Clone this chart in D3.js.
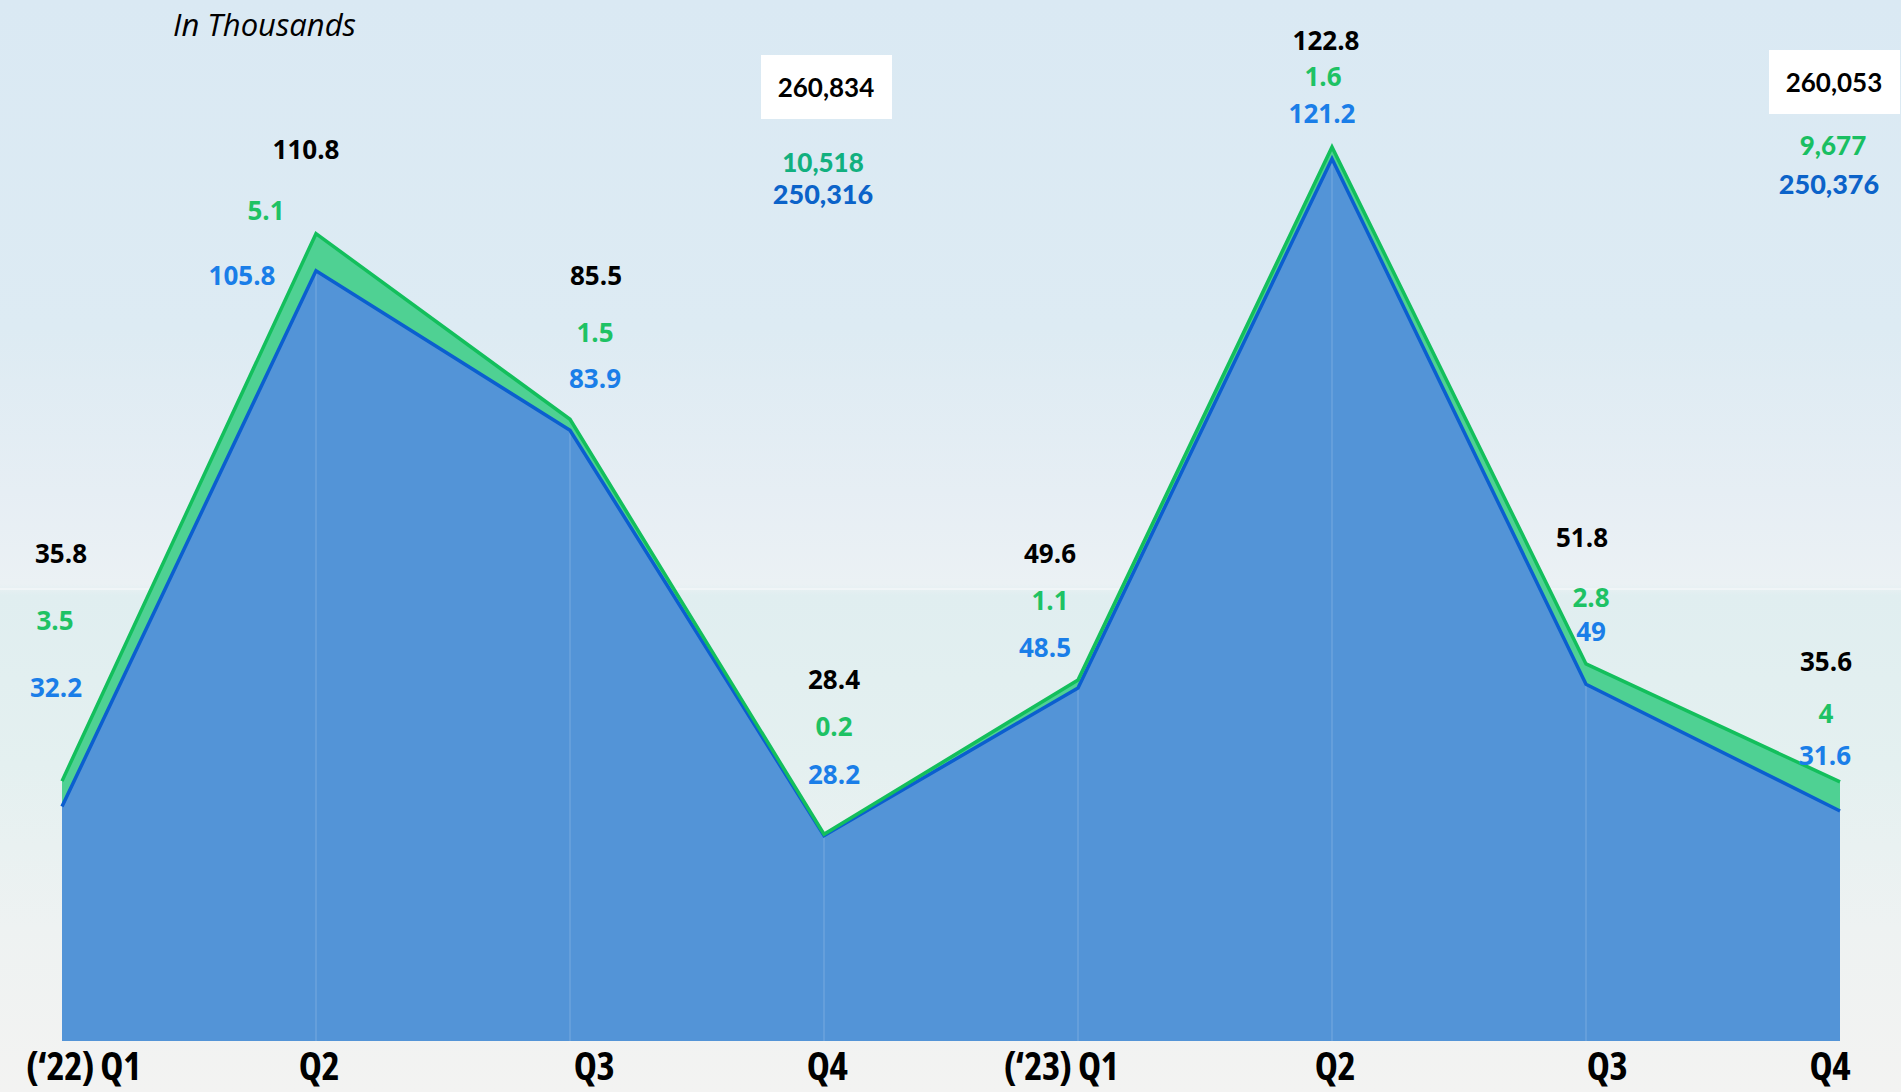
<!DOCTYPE html>
<html>
<head>
<meta charset="utf-8">
<script src="https://cdn.jsdelivr.net/npm/d3@7"></script>
<style>
  html, body { margin:0; padding:0; background:#eef3f5; }
  svg { display:block; }
</style>
</head>
<body>
<svg id="drawing_region"></svg>
<script>
// values (in thousands)
const quarters = ["(\u201822) Q1", "Q2", "Q3", "Q4", "(\u201823) Q1", "Q2", "Q3", "Q4"];
const blueValues = [32.2, 105.8, 83.9, 28.2, 48.5, 121.2, 49, 31.6];
const greenValues = [3.5, 5.1, 1.5, 0.2, 1.1, 1.6, 2.8, 4];
const totalValues = [35.8, 110.8, 85.5, 28.4, 49.6, 122.8, 51.8, 35.6];

// yearly totals, shown at the Q4 points
const yearIndex = [3, 7];
const yearTotal = [260834, 260053];
const yearGreen = [10518, 9677];
const yearBlue = [250316, 250376];

class DrawClass {

  constructor( config ) {
      this.config = {
          parent: config.parent,
          width: config.width || 1901,
          height: config.height || 1092,
          margin: config.margin || {top:0, right:61, bottom:51, left:62}
      }
      this.init();
  }

  init() {
      let self = this;

      self.svg = d3.select(self.config.parent)
          .attr('width', self.config.width)
          .attr('height', self.config.height);

      self.inner_width = self.config.width - self.config.margin.left - self.config.margin.right;
      self.inner_height = self.config.height - self.config.margin.top - self.config.margin.bottom;

      self.xscale = d3.scaleLinear()
          .domain([0, quarters.length - 1])
          .range([self.config.margin.left, self.config.margin.left + self.inner_width]);

      self.yscale = d3.scaleLinear()
          .domain([0, 143])
          .range([self.config.margin.top + self.inner_height, self.config.margin.top]);
  }

  update() {
      let self = this;
      self.rows = quarters.map((q, i) => ({ q: q, blue: blueValues[i], green: greenValues[i], total: totalValues[i] }));
      self.stack = d3.stack().keys(['blue', 'green'])(self.rows);
      self.render();
  }

  background() {
      let self = this;
      const defs = self.svg.append('defs');
      const grad = defs.append('linearGradient')
          .attr('id', 'sky').attr('x1', 0).attr('x2', 0).attr('y1', 0).attr('y2', 1);
      [[0, '#dae9f3'], [0.3, '#ddebf3'], [0.45, '#e6eef4'], [0.535, '#ebf1f4'],
       [0.545, '#e0eef0'], [0.7, '#e4f0f0'], [0.85, '#eef2f2'], [1, '#f3f3f2']]
        .forEach(s => grad.append('stop').attr('offset', s[0]).attr('stop-color', s[1]));

      self.svg.append('rect')
          .attr('width', self.config.width)
          .attr('height', self.config.height)
          .attr('fill', 'url(#sky)');

      // faint horizon line
      self.svg.append('rect')
          .attr('x', 0).attr('y', 588)
          .attr('width', self.config.width).attr('height', 2)
          .attr('fill', '#f6f9fa').attr('opacity', 0.6);
  }

  render() {
      let self = this;
      self.background();

      const area = d3.area()
          .x((d, i) => self.xscale(i))
          .y0(d => self.yscale(d[0]))
          .y1(d => self.yscale(d[1]));

      const topLine = d3.line()
          .x((d, i) => self.xscale(i))
          .y(d => self.yscale(d[1]));

      const fills = ['#5394d7', '#4fd193'];
      const strokes = ['#0b5fcf', '#13bf5c'];

      self.svg.selectAll('path.area')
          .data(self.stack)
          .join('path')
          .attr('class', 'area')
          .attr('d', area)
          .attr('fill', (d, i) => fills[i]);

      // faint vertical grid lines through the blue area
      self.svg.selectAll('line.grid')
          .data(self.rows.slice(1, -1))
          .join('line')
          .attr('class', 'grid')
          .attr('x1', (d, i) => self.xscale(i + 1))
          .attr('x2', (d, i) => self.xscale(i + 1))
          .attr('y1', d => self.yscale(d.blue))
          .attr('y2', self.yscale(0))
          .attr('stroke', '#ffffff')
          .attr('stroke-opacity', 0.15)
          .attr('stroke-width', 1.5);

      self.svg.selectAll('path.edge')
          .data(self.stack)
          .join('path')
          .attr('class', 'edge')
          .attr('d', topLine)
          .attr('fill', 'none')
          .attr('stroke', (d, i) => strokes[i])
          .attr('stroke-width', 3.5)
          .attr('stroke-linejoin', 'miter');

      // point labels: [dx, y] for total, green, blue
      const labelLayout = [
        [[-1, 553], [-7, 620], [-6, 687]],
        [[-10, 149], [-50, 210], [-74, 275]],
        [[26, 275], [25, 332], [25, 378]],
        [[10, 679], [10, 726], [10, 774]],
        [[-28, 553], [-28, 600], [-33, 647]],
        [[-6, 40], [-9, 76], [-10, 113]],
        [[-4, 537], [5, 597], [5, 631]],
        [[-14, 661], [-14, 713], [-15, 755]]
      ];
      const labelColors = ['#000000', '#1ec264', '#1a7ee8'];
      const labelKeys = ['total', 'green', 'blue'];

      const labels = [];
      self.rows.forEach((d, i) => {
        labelKeys.forEach((k, j) => {
          labels.push({ x: self.xscale(i) + labelLayout[i][j][0], y: labelLayout[i][j][1], text: d[k], color: labelColors[j] });
        });
      });

      self.svg.selectAll('text.value')
          .data(labels)
          .join('text')
          .attr('class', 'value')
          .attr('x', d => d.x)
          .attr('y', d => d.y)
          .attr('text-anchor', 'middle')
          .attr('dominant-baseline', 'central')
          .style('font-family', '"Open Sans", "Noto Sans", sans-serif')
          .style('font-weight', 700)
          .style('font-size', '26px')
          .attr('fill', d => d.color)
          .text(d => d.text);

      // yearly total boxes
      const fmt = d3.format(',');
      const boxLayout = [
        { dx: 2, boxY: 55, tY: 87, gdx: -1, gY: 162, bdx: -1, bY: 193, gColor: '#12b07f' },
        { dx: -6, boxY: 50, tY: 82, gdx: -7, gY: 145, bdx: -11, bY: 183, gColor: '#19bf62' }
      ];
      const years = yearIndex.map((idx, k) => ({ idx: idx, total: yearTotal[k], green: yearGreen[k], blue: yearBlue[k], lay: boxLayout[k] }));

      const yg = self.svg.selectAll('g.year')
          .data(years)
          .join('g')
          .attr('class', 'year');

      yg.append('rect')
          .attr('x', d => self.xscale(d.idx) + d.lay.dx - 65)
          .attr('y', d => d.lay.boxY)
          .attr('width', 131)
          .attr('height', 64)
          .attr('fill', '#ffffff');

      const yfont = '"Lato", "Open Sans", sans-serif';
      yg.append('text')
          .attr('x', d => self.xscale(d.idx) + d.lay.dx)
          .attr('y', d => d.lay.tY)
          .attr('text-anchor', 'middle')
          .attr('dominant-baseline', 'central')
          .style('font-family', yfont).style('font-weight', 700).style('font-size', '26px')
          .attr('fill', '#000')
          .text(d => fmt(d.total));

      yg.append('text')
          .attr('x', d => self.xscale(d.idx) + d.lay.gdx)
          .attr('y', d => d.lay.gY)
          .attr('text-anchor', 'middle')
          .attr('dominant-baseline', 'central')
          .style('font-family', yfont).style('font-weight', 900).style('font-size', '26px')
          .attr('fill', d => d.lay.gColor)
          .text(d => fmt(d.green));

      yg.append('text')
          .attr('x', d => self.xscale(d.idx) + d.lay.bdx)
          .attr('y', d => d.lay.bY)
          .attr('text-anchor', 'middle')
          .attr('dominant-baseline', 'central')
          .style('font-family', yfont).style('font-weight', 900).style('font-size', '27px')
          .attr('fill', '#0b63c9')
          .text(d => fmt(d.blue));

      // x axis labels
      const last = quarters.length - 1;
      self.svg.selectAll('text.quarter')
          .data(quarters)
          .join('text')
          .attr('class', 'quarter')
          .attr('x', (d, i) => i == 0 ? self.xscale(i) - 36 : i == last ? self.xscale(i) + 10 : self.xscale(i) + (i == 4 ? -17 : i == 2 ? 24 : i == 6 ? 21 : 3))
          .attr('y', 1080)
          .attr('text-anchor', (d, i) => i == 0 ? 'start' : i == last ? 'end' : 'middle')
          .style('font-family', '"Open Sans", sans-serif')
          .style('font-weight', 700)
          .style('font-stretch', '87.5%')
          .style('font-size', '39px')
          .style('letter-spacing', '-0.5px')
          .attr('fill', '#000')
          .text(d => d);

      self.svg.append('text')
          .attr('x', 173)
          .attr('y', 36)
          .style('font-family', '"Open Sans", sans-serif')
          .style('font-style', 'italic')
          .style('font-weight', 400)
          .style('font-size', '31px')
          .attr('fill', '#000')
          .text('In Thousands');
  }
}

let draw_chart = new DrawClass({ parent: '#drawing_region', width: 1901, height: 1092 });
draw_chart.update();
</script>
</body>
</html>
